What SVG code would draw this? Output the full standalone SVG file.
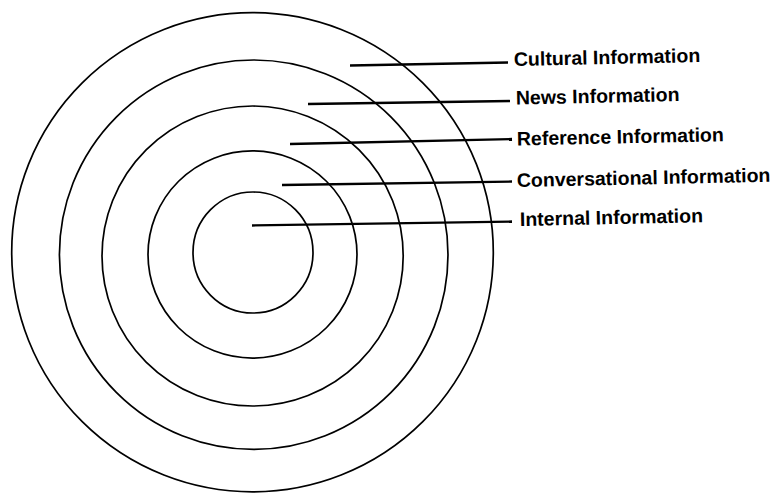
<svg xmlns="http://www.w3.org/2000/svg" width="780" height="494" viewBox="0 0 780 494">
<style>
.ring{fill:none;stroke:#000;stroke-width:1.7}
.lead{fill:none;stroke:#000;stroke-width:2.3;stroke-linecap:butt}
.lbl{font-family:"Liberation Sans",Arial,Helvetica,sans-serif;font-weight:bold;font-size:19.5px;fill:#000}
</style>
<rect width="780" height="494" fill="#fff"/>
<g id="cultural">
<ellipse class="ring" cx="252.5" cy="252.3" rx="240.8" ry="239.6"/>
<text class="lbl" x="514" y="66" transform="rotate(-1.2 514 66)">Cultural Information</text>
</g>
<g id="news">
<ellipse class="ring" cx="253.7" cy="254.7" rx="194.3" ry="194.7"/>
<text class="lbl" x="516" y="104.5" transform="rotate(-1.2 516 104.5)">News Information</text>
</g>
<g id="reference">
<ellipse class="ring" cx="252.6" cy="256" rx="150.6" ry="150"/>
<text class="lbl" x="517" y="145.5" transform="rotate(-1.2 517 145.5)">Reference Information</text>
</g>
<g id="conversational">
<ellipse class="ring" cx="252.5" cy="254.5" rx="104.5" ry="103.6"/>
<text class="lbl" x="517" y="187" transform="rotate(-1.2 517 187)">Conversational Information</text>
</g>
<g id="internal">
<ellipse class="ring" cx="253" cy="252.5" rx="60" ry="60.5"/>
<text class="lbl" x="520" y="226" transform="rotate(-1.2 520 226)">Internal Information</text>
</g>
<g id="connectors">
<line class="lead" x1="350" y1="65.5" x2="508" y2="62.5"/>
<line class="lead" x1="308" y1="104" x2="510" y2="101"/>
<line class="lead" x1="290" y1="144" x2="512" y2="139"/>
<line class="lead" x1="282" y1="185" x2="512" y2="181.5"/>
<line class="lead" x1="252" y1="225.5" x2="512" y2="221.5"/>
</g>
</svg>
